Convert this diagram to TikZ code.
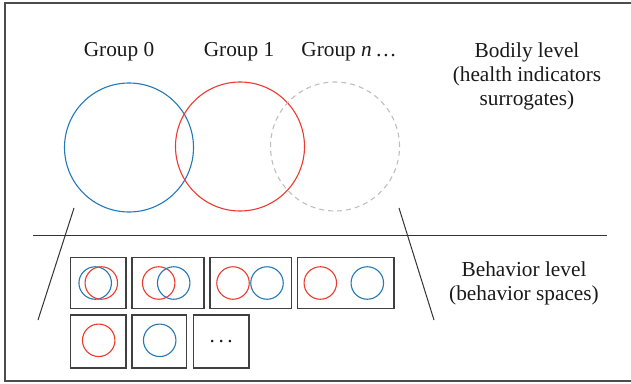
\documentclass[tikz,border=0pt]{standalone}
\usepackage{fontspec}
\setmainfont{Liberation Serif}
\begin{document}
\begin{tikzpicture}[x=1pt,y=-1pt,
  every node/.style={font=\fontsize{21.3}{24}\selectfont, text=black!90},
  bigc/.style={circle, draw, line width=1.1pt, minimum size=129pt, inner sep=0pt},
  smallc/.style={circle, draw, line width=1.1pt, minimum size=32.5pt, inner sep=0pt},
  cell/.style={draw=black!75, line width=1.3pt},
  frameline/.style={draw=black!70, line width=1.2pt},
  sep/.style={draw=black!80, line width=1pt}]
\definecolor{cblue}{RGB}{35,120,182}
\definecolor{cred}{RGB}{236,58,44}
\definecolor{cgray}{RGB}{190,190,190}
\useasboundingbox (0,0) rectangle (631,383);
\clip (0,0) rectangle (631,383);
% frame
\coordinate (f1) at (640,3); \coordinate (f2) at (5,3);
\coordinate (f3) at (5,381); \coordinate (f4) at (640,381);
\draw[frameline] (f1) -- (f2) -- (f3) -- (f4);
% labels
\node (g0) at (119,52) {Group 0};
\node (g1) at (239,52) {Group 1};
\node (gn) at (349,52) {Group \textit{n}\,\ldots};
\node[align=center] (bod) at (527,76) {Bodily level\\(health indicators\\surrogates)};
\node[align=center] (beh) at (524,283) {Behavior level\\(behavior spaces)};
% big circles
\node[bigc, draw=cblue] (c0) at (129,147.5) {};
\node[bigc, draw=cred] (c1) at (240,146.5) {};
\node[bigc, draw=cgray, dashed, dash pattern=on 5pt off 4pt] (cn) at (335,146.5) {};
% separator and slanted lines
\coordinate (h1) at (33,235); \coordinate (h2) at (607,235);
\draw[sep] (h1) -- (h2);
\coordinate (la) at (74,208); \coordinate (lb) at (38,320);
\coordinate (ra) at (399,208); \coordinate (rb) at (434,320);
\draw[sep] (la) -- (lb);
\draw[sep] (ra) -- (rb);
% boxes row 1
\node[cell, minimum width=55.5pt, minimum height=51.5pt] (b1) at (98.3,283) {};
\node[cell, minimum width=72pt, minimum height=51.5pt] (b2) at (168,283) {};
\node[cell, minimum width=81.3pt, minimum height=51.5pt] (b3) at (250.6,283) {};
\node[cell, minimum width=96.7pt, minimum height=51.5pt] (b4) at (345.6,283) {};
% boxes row 2
\node[cell, minimum width=55.5pt, minimum height=53pt] (b5) at (98.3,341.5) {};
\node[cell, minimum width=54.7pt, minimum height=53pt] (b6) at (159.3,341.5) {};
\node[cell, minimum width=55.7pt, minimum height=53pt, inner sep=0pt] (b7) at (221.2,341.5) {};
\node (dots) at (b7.center) {\raisebox{1pt}{.\hspace{3.5pt}.\hspace{3.5pt}.}};
% small circles
\node[smallc, draw=cblue] (s1b) at (95.2,283) {};
\node[smallc, draw=cred] (s1r) at (101.3,283) {};
\node[smallc, draw=cred] (s2r) at (158.7,283) {};
\node[smallc, draw=cblue] (s2b) at (173.7,283) {};
\node[smallc, draw=cred] (s3r) at (233,283) {};
\node[smallc, draw=cblue] (s3b) at (267,283) {};
\node[smallc, draw=cred] (s4r) at (320.3,283) {};
\node[smallc, draw=cblue] (s4b) at (367.3,283) {};
\node[smallc, draw=cred] (s5r) at (98.7,340.3) {};
\node[smallc, draw=cblue] (s6b) at (159.7,340.3) {};
\end{tikzpicture}
\end{document}
